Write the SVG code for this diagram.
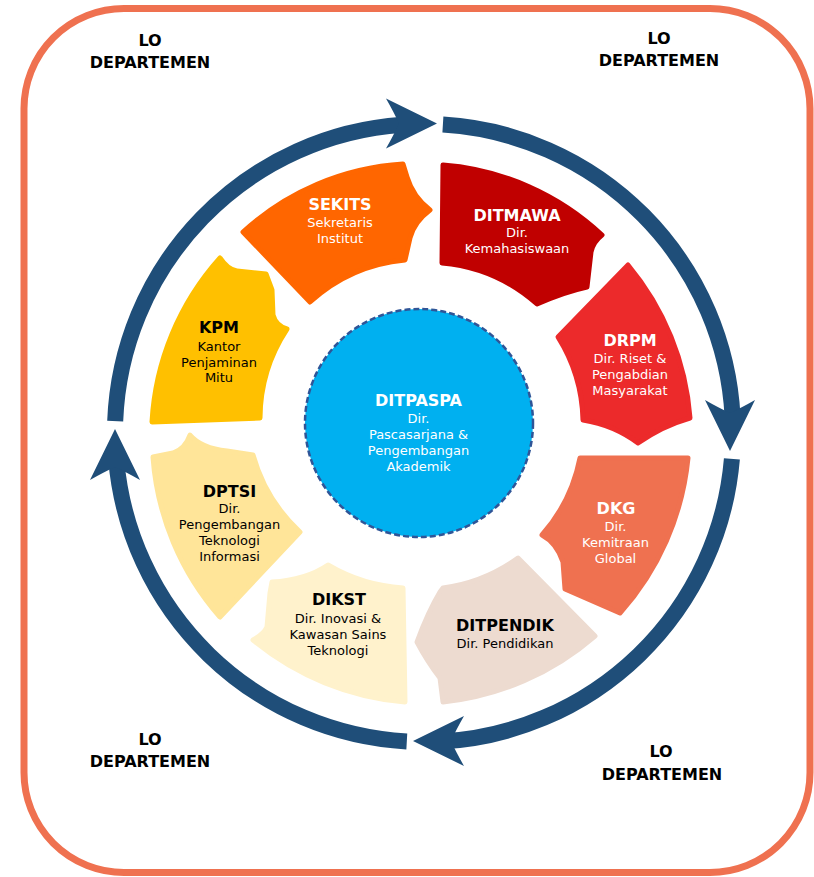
<svg xmlns="http://www.w3.org/2000/svg" width="814" height="877" viewBox="0 0 814 877">
<defs>
<style>
.t{font-family:"DejaVu Sans","Liberation Sans",sans-serif;text-anchor:middle}
.h{font-size:16px;font-weight:bold}
.s{font-size:13px}
.w{fill:#ffffff}
.k{fill:#000000}
.ring{fill:none;stroke:#1f4e79;stroke-width:16;stroke-linecap:butt}
.seg{stroke-width:5;stroke-linejoin:round}
</style>
<path id="head" d="M0 0 L-51 -25 Q-43 -11 -38 0 Q-43 11 -51 25 Z" fill="#1f4e79"/>
</defs>
<rect x="0" y="0" width="814" height="877" fill="#ffffff"/>
<rect id="frame" x="24" y="8.5" width="786" height="864" rx="100" ry="100" fill="none" stroke="#ef7150" stroke-width="7"/>

<g id="connectors">
<path class="ring" d="M115.2 421.1 A309 309 0 0 1 402.4 124.8"/>
<use href="#head" transform="translate(437 123.5) rotate(0)"/>
<path class="ring" d="M442.9 124.6 A309 309 0 0 1 732.6 416.8"/>
<use href="#head" transform="translate(730 451) rotate(90)"/>
<path class="ring" d="M731.9 458.9 A309 309 0 0 1 440.2 741.6"/>
<use href="#head" transform="translate(413 741) rotate(180)"/>
<path class="ring" d="M406.8 741.5 A309 309 0 0 1 116.2 459.9"/>
<use href="#head" transform="translate(115 429) rotate(270)"/>
</g>

<g id="sekits">
<path class="seg" fill="#ff6600" stroke="#ff6600" d="M243 232 A261 261 0 0 1 403 164 L407 177 Q413 197 430 210 Q414 222 410 238 L405 260 A164 164 0 0 0 310 302 Z"/>
<text class="t h w" x="340" y="210">SEKITS</text>
<text class="t s w" x="340" y="227">Sekretaris</text>
<text class="t s w" x="340" y="243">Institut</text>
</g>

<g id="ditmawa">
<path class="seg" fill="#c00000" stroke="#c00000" d="M443 165 L442 263 A165 165 0 0 1 537 304 Q564 292 587 287 L591 252 Q593 242 602 235 A262 262 0 0 0 443 165 Z"/>
<text class="t h w" x="517" y="221">DITMAWA</text>
<text class="t s w" x="517" y="237">Dir.</text>
<text class="t s w" x="517" y="253">Kemahasiswaan</text>
</g>

<g id="drpm">
<path class="seg" fill="#ec2a2b" stroke="#ec2a2b" d="M628 265 A270 270 0 0 1 690 418 Q662 426 638 443 Q614 425 583 420 A163 163 0 0 0 558 337 Z"/>
<text class="t h w" x="630" y="346">DRPM</text>
<text class="t s w" x="630" y="363">Dir. Riset &amp;</text>
<text class="t s w" x="630" y="379">Pengabdian</text>
<text class="t s w" x="630" y="395">Masyarakat</text>
</g>

<g id="dkg">
<path class="seg" fill="#ef7150" stroke="#ef7150" d="M580 458 L688 458 A272 272 0 0 1 620 613 L565 589 L563 562 Q557 543 542 535 A164 164 0 0 0 580 458 Z"/>
<text class="t h w" x="616" y="514">DKG</text>
<text class="t s w" x="615.5" y="531">Dir.</text>
<text class="t s w" x="615.5" y="547">Kemitraan</text>
<text class="t s w" x="615.5" y="563">Global</text>
</g>

<g id="ditpendik">
<path class="seg" fill="#eddbd0" stroke="#eddbd0" d="M518 558 L595 636 A275 275 0 0 1 443 702 L440 678 Q427 661 417 642 Q428 612 440 592 L443 588 A166 166 0 0 0 518 558 Z"/>
<text class="t h k" x="505" y="631">DITPENDIK</text>
<text class="t s k" x="505" y="648">Dir. Pendidikan</text>
</g>

<g id="dikst">
<path class="seg" fill="#fff2cc" stroke="#fff2cc" d="M403 588 L405 702 A275 275 0 0 1 253 640 Q264 634 267 627 L270 593 L272 582 Q306 580 328 565 A167 167 0 0 0 403 588 Z"/>
<text class="t h k" x="339" y="605">DIKST</text>
<text class="t s k" x="338" y="623">Dir. Inovasi &amp;</text>
<text class="t s k" x="338" y="639">Kawasan Sains</text>
<text class="t s k" x="338" y="655">Teknologi</text>
</g>

<g id="dptsi">
<path class="seg" fill="#ffe599" stroke="#ffe599" d="M153 457 L173 453 Q185 449 190 435 Q201 448 227 451 L253 455 A165 165 0 0 0 300 532 L220 617 A272 272 0 0 1 153 457 Z"/>
<text class="t h k" x="229.5" y="497">DPTSI</text>
<text class="t s k" x="229.5" y="513">Dir.</text>
<text class="t s k" x="229.5" y="529">Pengembangan</text>
<text class="t s k" x="229.5" y="545">Teknologi</text>
<text class="t s k" x="229.5" y="561">Informasi</text>
</g>

<g id="kpm">
<path class="seg" fill="#ffc000" stroke="#ffc000" d="M220 258 Q228 270 237 271 L266 274 L272 290 L273 315 Q276 326 287 329 A163 163 0 0 0 260 418 L152 422 A268 268 0 0 1 220 258 Z"/>
<text class="t h k" x="219" y="333">KPM</text>
<text class="t s k" x="219" y="351">Kantor</text>
<text class="t s k" x="219" y="367">Penjaminan</text>
<text class="t s k" x="219" y="382">Mitu</text>
</g>

<g id="ditpaspa">
<circle cx="419" cy="423" r="114" fill="#00b0f0" stroke="#2f5597" stroke-width="2.5" stroke-dasharray="6 3"/>
<text class="t h w" x="418.5" y="406">DITPASPA</text>
<text class="t s w" x="418.5" y="423">Dir.</text>
<text class="t s w" x="418.5" y="439">Pascasarjana &amp;</text>
<text class="t s w" x="418.5" y="455">Pengembangan</text>
<text class="t s w" x="418.5" y="471">Akademik</text>
</g>

<g id="lo-top-left">
<text class="t h k" x="150" y="46">LO</text>
<text class="t h k" x="150" y="68">DEPARTEMEN</text>
</g>
<g id="lo-top-right">
<text class="t h k" x="659" y="44">LO</text>
<text class="t h k" x="659" y="66">DEPARTEMEN</text>
</g>
<g id="lo-bottom-left">
<text class="t h k" x="150" y="745">LO</text>
<text class="t h k" x="150" y="767">DEPARTEMEN</text>
</g>
<g id="lo-bottom-right">
<text class="t h k" x="661" y="757">LO</text>
<text class="t h k" x="662" y="780">DEPARTEMEN</text>
</g>
</svg>
